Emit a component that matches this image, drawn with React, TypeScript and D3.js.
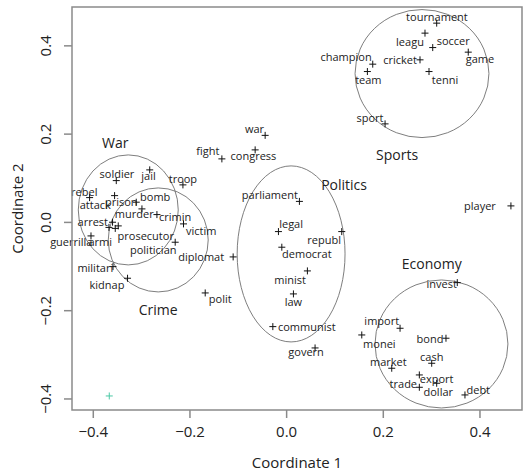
import React, { useEffect, useRef } from "react";
import * as d3 from "d3";

// word, point x, point y, label x, label y (MDS coordinates)
const words = ["tournament", "leagu", "soccer", "game", "champion", "cricket", "team", "tenni", "sport",
  "war", "congress", "fight", "troop", "jail", "soldier", "rebel", "attack", "prison", "bomb", "murder",
  "crimin", "arrest", "prosecutor", "guerrilla", "armi", "politician", "victim", "militari", "kidnap",
  "diplomat", "polit", "parliament", "legal", "republ", "democrat", "minist", "law", "communist", "govern",
  "invest", "import", "monei", "bond", "cash", "market", "export", "trade", "dollar", "debt", "player"];
const pointX = [0.3115, 0.2873, 0.3033, 0.3768, 0.1792, 0.2770, 0.1681, 0.2956, 0.2047,
  -0.0434, -0.0641, -0.1329, -0.2135, -0.2822, -0.3514, -0.4066, -0.3549, -0.3101, -0.2983, -0.3665,
  -0.2673, -0.3591, -0.3535, -0.4037, -0.3473, -0.2295, -0.2123, -0.3582, -0.3281,
  -0.1096, -0.1674, 0.0275, -0.0159, 0.1151, -0.0089, 0.0440, 0.0151, -0.0275, 0.0599,
  0.3541, 0.2357, 0.1565, 0.3307, 0.3012, 0.2185, 0.2756, 0.2756, 0.3115, 0.3700, 0.4651];
const pointY = [0.4514, 0.4288, 0.3961, 0.3857, 0.3585, 0.3683, 0.3418, 0.3418, 0.2232,
  0.1972, 0.1643, 0.1439, 0.0850, 0.1190, 0.0947, 0.0562, 0.0607, 0.0458, 0.0306, -0.0113,
  0.0177, 0.0004, -0.0136, -0.0306, -0.0079, -0.0449, -0.0034, -0.1002, -0.1265,
  -0.0782, -0.1598, 0.0476, -0.0208, -0.0208, -0.0562, -0.1099, -0.1620, -0.2361, -0.2844,
  -0.1364, -0.2398, -0.2550, -0.2624, -0.3191, -0.3304, -0.3456, -0.3735, -0.3644, -0.3909, 0.0374];
const labelX = [0.312, 0.2563, 0.3458, 0.4010, 0.1240, 0.2357, 0.1701, 0.3287, 0.1736,
  -0.0655, -0.0676, -0.1619, -0.2135, -0.2847, -0.3500, -0.4176, -0.3948, -0.3411, -0.2708, -0.3142,
  -0.2295, -0.4000, -0.2904, -0.4444, -0.3845, -0.2749, -0.1757, -0.3948, -0.3706,
  -0.1757, -0.1364, -0.0337, 0.0103, 0.0786, 0.0428, 0.0083, 0.0151, 0.0428, 0.0413,
  0.3219, 0.1978, 0.1929, 0.2977, 0.3012, 0.2115, 0.3115, 0.2425, 0.3148, 0.3975, 0.4010];
const labelY = [0.466, 0.4097, 0.4120, 0.3705, 0.3751, 0.3683, 0.3229, 0.3229, 0.2384,
  0.2135, 0.1507, 0.1620, 0.1002, 0.1054, 0.1115, 0.0691, 0.0408, 0.0476, 0.0585, 0.0193,
  0.0131, 0.0018, -0.0306, -0.0435, -0.0435, -0.0607, -0.0186, -0.1015, -0.1416,
  -0.0782, -0.1734, 0.0639, -0.0018, -0.0381, -0.0714, -0.1303, -0.1795, -0.2361, -0.2935,
  -0.1378, -0.2225, -0.2738, -0.2640, -0.3041, -0.3155, -0.3531, -0.3644, -0.3834, -0.3796, 0.0374];

// the lone coloured point
const outlierX = [-0.3659];
const outlierY = [-0.3932];

// topic groups: name, label position, ellipse centre and radii
const groups = ["War", "Crime", "Politics", "Sports", "Economy"];
const groupLabelX = [-0.3535, -0.2646, 0.1199, 0.2295, 0.3012];
const groupLabelY = [0.1802, -0.1983, 0.0850, 0.1530, -0.0925];
const ellipseCX = [-0.3266, -0.2646, 0.0103, 0.2811, 0.3214];
const ellipseCY = [0.0283, -0.0397, -0.0714, 0.3372, -0.2754];
const ellipseRX = [0.1034, 0.1034, 0.1116, 0.1385, 0.1375];
const ellipseRY = [0.1246, 0.1178, 0.1994, 0.1450, 0.1450];

const xTicks = [-0.4, -0.2, 0.0, 0.2, 0.4];
const yTicks = [-0.4, -0.2, 0.0, 0.2, 0.4];

export default function App() {
  const ref = useRef<SVGSVGElement>(null);

  useEffect(() => {
    const width = 523;
    const height = 474;
    const margin = { top: 7, right: 1, bottom: 64, left: 72 };
    const font = "'Open Sans', sans-serif";
    const axisColor = "#8a8a8a";

    const svg = d3.select(ref.current);
    svg.selectAll("*").remove();

    const x = d3.scaleLinear().domain([-0.443, 0.488]).range([margin.left, width - margin.right]);
    const y = d3.scaleLinear().domain([-0.425, 0.488]).range([height - margin.bottom, margin.top]);

    const plot = svg.append("g");

    // ellipses
    plot.selectAll("ellipse").data(groups).join("ellipse")
      .attr("cx", (d, i) => x(ellipseCX[i]))
      .attr("cy", (d, i) => y(ellipseCY[i]))
      .attr("rx", (d, i) => x(ellipseRX[i]) - x(0))
      .attr("ry", (d, i) => y(0) - y(ellipseRY[i]))
      .attr("fill", "none")
      .attr("stroke", "#6f6f6f")
      .attr("stroke-width", 0.9);

    const cross = (px: number, py: number) => `M${px - 3.5},${py}h7M${px},${py - 3.5}v7`;

    plot.selectAll("path.pt").data(words).join("path")
      .attr("class", "pt")
      .attr("d", (d, i) => cross(x(pointX[i]), y(pointY[i])))
      .attr("stroke", "#111")
      .attr("stroke-width", 1);

    plot.selectAll("path.outlier").data(outlierX).join("path")
      .attr("class", "outlier")
      .attr("d", (d, i) => cross(x(outlierX[i]), y(outlierY[i])))
      .attr("stroke", "#4cc9a6")
      .attr("stroke-width", 1);

    plot.selectAll("text.word").data(words).join("text")
      .attr("class", "word")
      .attr("x", (d, i) => x(labelX[i]))
      .attr("y", (d, i) => y(labelY[i]))
      .attr("text-anchor", "middle")
      .attr("dominant-baseline", "central")
      .style("font-family", font)
      .style("font-size", "11px")
      .attr("fill", "#222")
      .text(d => d);

    plot.selectAll("text.group").data(groups).join("text")
      .attr("class", "group")
      .attr("x", (d, i) => x(groupLabelX[i]))
      .attr("y", (d, i) => y(groupLabelY[i]))
      .attr("text-anchor", "middle")
      .attr("dominant-baseline", "central")
      .style("font-family", font)
      .style("font-size", "14px")
      .attr("fill", "#222")
      .text(d => d);

    // frame
    svg.append("rect")
      .attr("x", margin.left)
      .attr("y", margin.top)
      .attr("width", width - margin.right - margin.left)
      .attr("height", height - margin.bottom - margin.top)
      .attr("fill", "none")
      .attr("stroke", axisColor)
      .attr("stroke-width", 1.5);

    const xAxis = svg.append("g")
      .attr("transform", `translate(0,${height - margin.bottom})`)
      .call(d3.axisBottom(x).tickValues(xTicks).tickSize(8).tickPadding(8).tickFormat(d3.format(".1f")));
    xAxis.select(".domain").remove();
    xAxis.selectAll("line").attr("stroke", axisColor).attr("stroke-width", 1.5);
    xAxis.selectAll("text").style("font-family", font).style("font-size", "15px").attr("fill", "#222");

    const yAxis = svg.append("g")
      .attr("transform", `translate(${margin.left},0)`)
      .call(d3.axisLeft(y).tickValues(yTicks).tickSize(8).tickFormat(d3.format(".1f")));
    yAxis.select(".domain").remove();
    yAxis.selectAll("line").attr("stroke", axisColor).attr("stroke-width", 1.5);
    yAxis.selectAll("text")
      .attr("x", null)
      .attr("dy", null)
      .attr("transform", (d: any) => `translate(-27,${y(d)}) rotate(-90)`)
      .attr("y", 0)
      .attr("text-anchor", "middle")
      .attr("dominant-baseline", "central")
      .style("font-family", font).style("font-size", "15px").attr("fill", "#222");
    yAxis.selectAll(".tick").attr("transform", (d: any) => `translate(0,${y(d)})`);
    yAxis.selectAll(".tick text").attr("transform", "translate(-27,0) rotate(-90)");

    svg.append("text")
      .attr("x", (margin.left + width - margin.right) / 2)
      .attr("y", 462)
      .attr("text-anchor", "middle")
      .attr("dominant-baseline", "central")
      .style("font-family", font).style("font-size", "15px").attr("fill", "#222")
      .text("Coordinate 1");

    svg.append("text")
      .attr("transform", `translate(17,${(margin.top + height - margin.bottom) / 2}) rotate(-90)`)
      .attr("text-anchor", "middle")
      .attr("dominant-baseline", "central")
      .style("font-family", font).style("font-size", "15px").attr("fill", "#222")
      .text("Coordinate 2");
  }, []);

  return (
    <svg ref={ref} width={523} height={474}
      style={{ position: "absolute", left: 0, top: 0, background: "#fff" }} />
  );
}
